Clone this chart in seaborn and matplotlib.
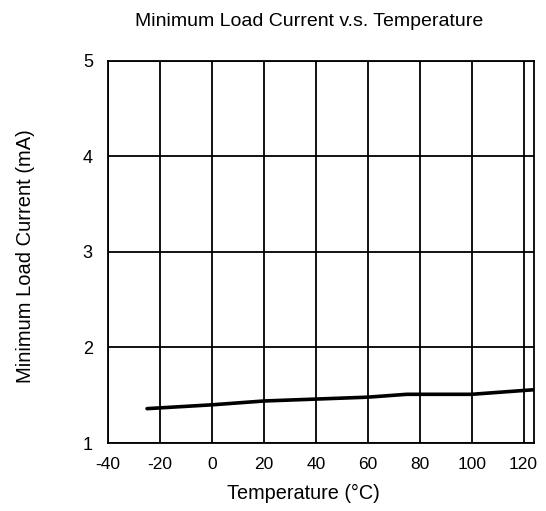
import matplotlib
matplotlib.use("Agg")
import matplotlib.pyplot as plt
import seaborn as sns
import pandas as pd

# --- data ---
temperature = [-25, 0, 20, 40, 60, 75, 100, 125]
min_load_ma = [1.36, 1.40, 1.44, 1.46, 1.48, 1.51, 1.51, 1.56]
x_ticks = [-40, -20, 0, 20, 40, 60, 80, 100, 120]
y_ticks = [1, 2, 3, 4, 5]

df = pd.DataFrame({"temp": temperature, "current": min_load_ma})

sns.set_theme(style="white")
plt.rcParams["font.family"] = ["Liberation Sans", "DejaVu Sans"]
plt.rcParams["text.color"] = "black"

fig = plt.figure(figsize=(5.46, 5.11), dpi=100)
ax = fig.add_axes([0.198, 0.133, 0.780, 0.748])

sns.lineplot(data=df, x="temp", y="current", ax=ax, color="black", linewidth=2.6)

ax.set_xlim(-40, 124)
ax.set_ylim(1, 5)
ax.set_xticks(x_ticks)
ax.set_yticks(y_ticks)
ax.set_xticklabels([str(t) for t in x_ticks], fontsize=12.5)
ax.set_yticklabels([str(t) for t in y_ticks], fontsize=13)
ax.grid(True, color="black", linewidth=1.3)
ax.tick_params(axis="x", length=0, pad=10, colors="black")
ax.tick_params(axis="y", length=0, pad=11, colors="black")
for s in ax.spines.values():
    s.set_color("black")
    s.set_linewidth(1.3)

ax.set_xlabel("")
ax.set_ylabel("")
fig.text(0.555, 0.035, "Temperature (°C)", fontsize=14.3, ha="center", va="center",
         color="black")
fig.text(0.046, 0.499, "Minimum Load Current (mA)", rotation=90, fontsize=14.5,
         ha="center", va="center", color="black")
fig.text(0.566, 0.957, "Minimum Load Current v.s. Temperature", fontsize=14,
         ha="center", va="center", color="black")

fig.savefig("out.png", dpi=100)
